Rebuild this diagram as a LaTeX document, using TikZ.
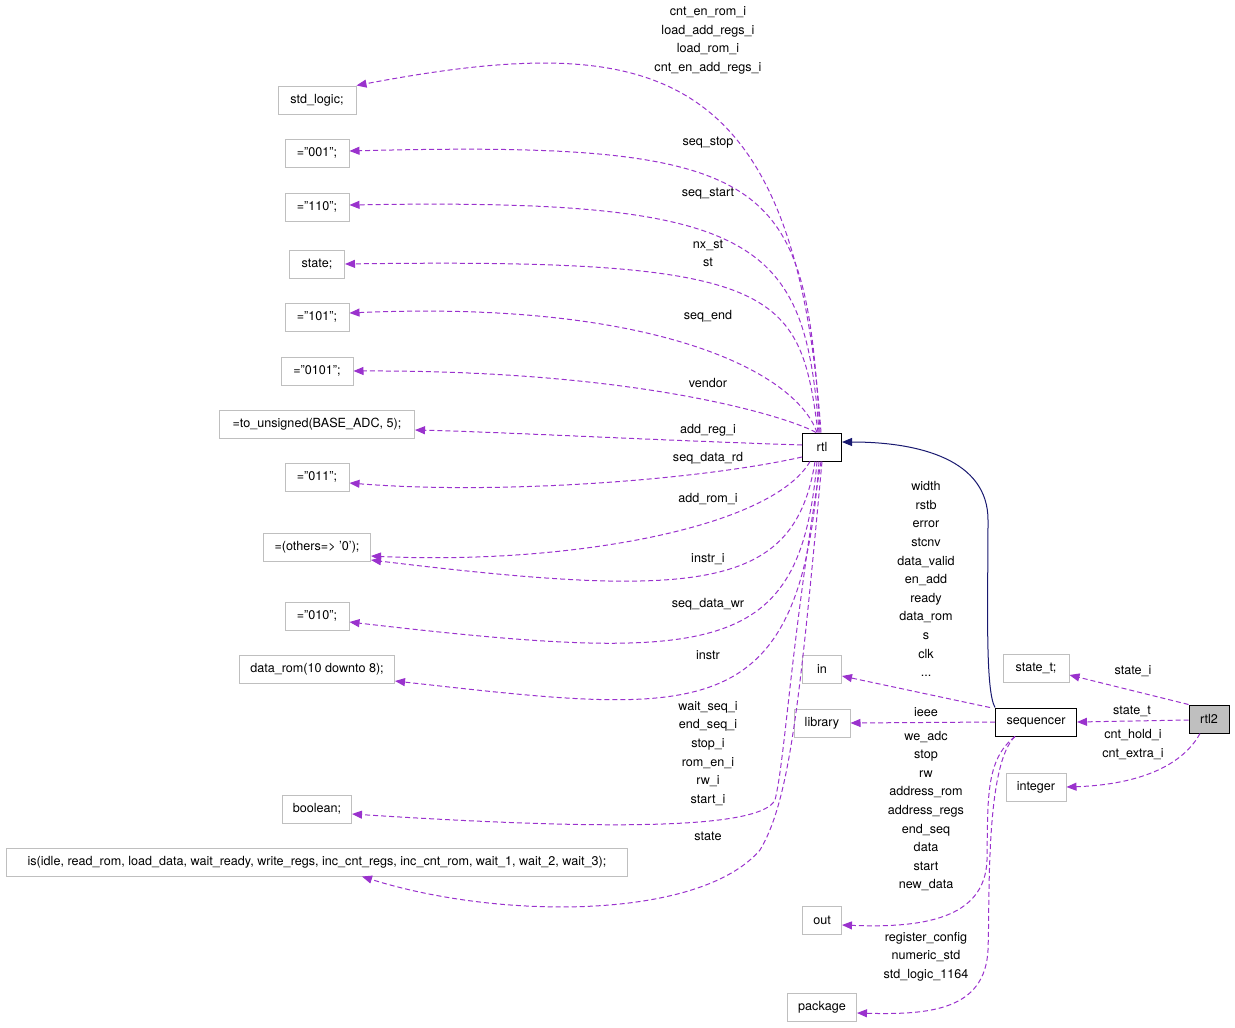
\documentclass[tikz,border=0pt]{standalone}
\usepackage{fontspec}
\setmainfont{TeX Gyre Heros}
\usetikzlibrary{arrows.meta}

\definecolor{usepurple}{HTML}{9A32CD}
\definecolor{inhnavy}{HTML}{191970}
\definecolor{boxgray}{HTML}{BFBFBF}
\newcommand{\dxfont}{\fontsize{12.6}{18.6}\selectfont}

\tikzset{
  extbox/.style={draw=boxgray, line width=1pt, inner xsep=3pt, inner ysep=0pt, minimum height=28pt, font=\dxfont},
  curbox/.style={extbox, draw=black},
  useedge/.style={draw=usepurple, line width=1pt, dash pattern=on 5pt off 3pt, -{Triangle[length=10pt,width=8pt]}},
  inhedge/.style={draw=inhnavy, line width=1pt, -{Triangle[length=10pt,width=8pt]}},
  elabel/.style={font=\dxfont, align=center, inner sep=0pt}
}

\begin{document}
\begin{tikzpicture}[x=1pt, y=-1pt]
\useasboundingbox (0,0) rectangle (1235,1028);

% Main classes
\node[curbox, minimum width=39pt] (rtl) at (822,447) {rtl};
\node[curbox, minimum width=81pt] (seq) at (1036,722) {sequencer};
\node[curbox, fill=boxgray, minimum width=40pt] (rtltwo) at (1209,719) {rtl2};

% Types used by rtl
\node[extbox, minimum width=78pt] (stdlogic) at (317,100) {std\_logic;};
\node[extbox, minimum width=64pt] (vzzo) at (317,153) {="001";};
\node[extbox, minimum width=64pt] (voot) at (317,207) {="110";};
\node[extbox, minimum width=55pt] (statet) at (317,264) {state;};
\node[extbox, minimum width=64pt] (vozo) at (317,317) {="101";};
\node[extbox, minimum width=72pt] (vzozo) at (317,371) {="0101";};
\node[extbox, minimum width=195pt] (tounsig) at (317,424) {=to\_unsigned(BASE\_ADC, 5);};
\node[extbox, minimum width=64pt] (vzoo) at (317,477) {="011";};
\node[extbox, minimum width=107pt] (others) at (317,547) {=(others=> '0');};
\node[extbox, minimum width=64pt] (vzoz) at (317,616) {="010";};
\node[extbox, minimum width=155pt] (datarom) at (317,669) {data\_rom(10 downto 8);};
\node[extbox, minimum width=69pt] (bool) at (317,809) {boolean;};
\node[extbox, minimum width=621pt] (enumst) at (317,862) {is(idle, read\_rom, load\_data, wait\_ready, write\_regs, inc\_cnt\_regs, inc\_cnt\_rom, wait\_1, wait\_2, wait\_3);};

% Types used by sequencer
\node[extbox, minimum width=39pt] (kin) at (822,669) {in};
\node[extbox, minimum width=56pt] (klib) at (822,723) {library};
\node[extbox, minimum width=39pt] (kout) at (822,920) {out};
\node[extbox, minimum width=69pt] (kpkg) at (822,1007) {package};

% Types used by rtl2
\node[extbox, minimum width=66pt] (statetype) at (1036,668) {state\_t;};
\node[extbox, minimum width=60pt] (int) at (1036,787) {integer};

% Edge labels of rtl
\node[elabel] (lstd) at (708,40.5) {cnt\_en\_rom\_i\\load\_add\_regs\_i\\load\_rom\_i\\cnt\_en\_add\_regs\_i};
\node[elabel] (lzzo) at (708,143) {seq\_stop};
\node[elabel] (loot) at (708,194) {seq\_start};
\node[elabel] (lst) at (708,253.5) {nx\_st\\st};
\node[elabel] (lozo) at (708,316) {seq\_end};
\node[elabel] (lzozo) at (708,383) {vendor};
\node[elabel] (lunsig) at (708,430) {add\_reg\_i};
\node[elabel] (lzoo) at (708,458) {seq\_data\_rd};
\node[elabel] (loth) at (708,499) {add\_rom\_i};
\node[elabel] (lothb) at (708,559) {instr\_i};
\node[elabel] (lzoz) at (708,604) {seq\_data\_wr};
\node[elabel] (ldrom) at (708,655) {instr};
\node[elabel] (lbool) at (708,753.5) {wait\_seq\_i\\end\_seq\_i\\stop\_i\\rom\_en\_i\\rw\_i\\start\_i};
\node[elabel] (lenum) at (708,836) {state};

% Edge labels of sequencer
\node[elabel] (lin) at (926,579) {width\\rstb\\error\\stcnv\\data\_valid\\en\_add\\ready\\data\_rom\\s\\clk\\...};
\node[elabel] (llib) at (926,712) {ieee};
\node[elabel] (lout) at (926,811) {we\_adc\\stop\\rw\\address\_rom\\address\_regs\\end\_seq\\data\\start\\new\_data};
\node[elabel] (lpkg) at (926,956.5) {register\_config\\numeric\_std\\std\_logic\_1164};

% Edge labels of rtl2
\node[elabel] (lstt) at (1133,671) {state\_i};
\node[elabel] (lseq) at (1132,711) {state\_t};
\node[elabel] (lint) at (1133,744.5) {cnt\_hold\_i\\cnt\_extra\_i};

% rtl uses
\draw[useedge] ([xshift=-1pt]rtl.north) .. controls (795,60) and (650,30) .. (stdlogic.north east);
\draw[useedge] ([xshift=-2pt]rtl.north) .. controls (805,180) and (780,140) .. ([yshift=2pt]vzzo.east);
\draw[useedge] ([xshift=-3pt]rtl.north) .. controls (805,240) and (760,198) .. ([yshift=2pt]voot.east);
\draw[useedge] ([xshift=-4pt]rtl.north) .. controls (800,290) and (780,258) .. (statet.east);
\draw[useedge] ([xshift=-5pt]rtl.north) .. controls (795,370) and (650,300) .. ([yshift=4pt]vozo.east);
\draw[useedge] ([xshift=-6pt]rtl.north) .. controls (795,420) and (650,370) .. (vzozo.east);
\draw[useedge] ([yshift=2pt]rtl.west) .. controls (650,440) and (500,432) .. ([yshift=-6pt]tounsig.east);
\draw[useedge] ([yshift=-10pt]rtl.west) .. controls (700,480) and (500,495) .. ([yshift=-6pt]vzoo.east);
\draw[useedge] ([xshift=-12pt]rtl.south) .. controls (770,530) and (560,565) .. ([yshift=-9pt]others.east);
\draw[useedge] ([xshift=-7pt]rtl.south) .. controls (795,590) and (700,600) .. ([yshift=-13pt]others.east);
\draw[useedge] ([xshift=-5pt]rtl.south) .. controls (800,655) and (720,665) .. ([yshift=-6pt]vzoz.east);
\draw[useedge] ([xshift=-3pt]rtl.south) .. controls (800,730) and (700,715) .. ([yshift=-12pt]datarom.east);
\draw[useedge] ([xshift=-1pt]rtl.south) .. controls (790,650) and (785,760) .. (775,800) .. controls (760,830) and (600,830) .. ([yshift=-5pt]bool.east);
\draw[useedge] (rtl.south) .. controls (800,700) and (790,800) .. (760,850) .. controls (700,920) and (500,920) .. ([xshift=45pt]enumst.south);

% sequencer inherits from rtl
\draw[inhedge] ([xshift=-41pt]seq.north) .. controls (985,690) and (988,600) .. (988,520) .. controls (988,460) and (920,442) .. ([yshift=5pt]rtl.east);

% sequencer uses
\draw[useedge] ([xshift=-46pt]seq.north) -- ([yshift=-7pt]kin.east);
\draw[useedge] (seq.west) -- (klib.east);
\draw[useedge] ([xshift=-21pt]seq.south) .. controls (985,760) and (988,800) .. (987,860) .. controls (985,920) and (920,928) .. ([yshift=-5pt]kout.east);
\draw[useedge] ([xshift=-21pt]seq.south) .. controls (985,765) and (990,900) .. (988,950) .. controls (985,1010) and (930,1015) .. ([yshift=-6pt]kpkg.east);

% rtl2 uses
\draw[useedge] (rtltwo.north west) -- ([yshift=-7pt]statetype.east);
\draw[useedge] ([yshift=-1pt]rtltwo.west) -- (seq.east);
\draw[useedge] ([xshift=-9pt]rtltwo.south) .. controls (1180,770) and (1130,785) .. (int.east);

\end{tikzpicture}
\end{document}
